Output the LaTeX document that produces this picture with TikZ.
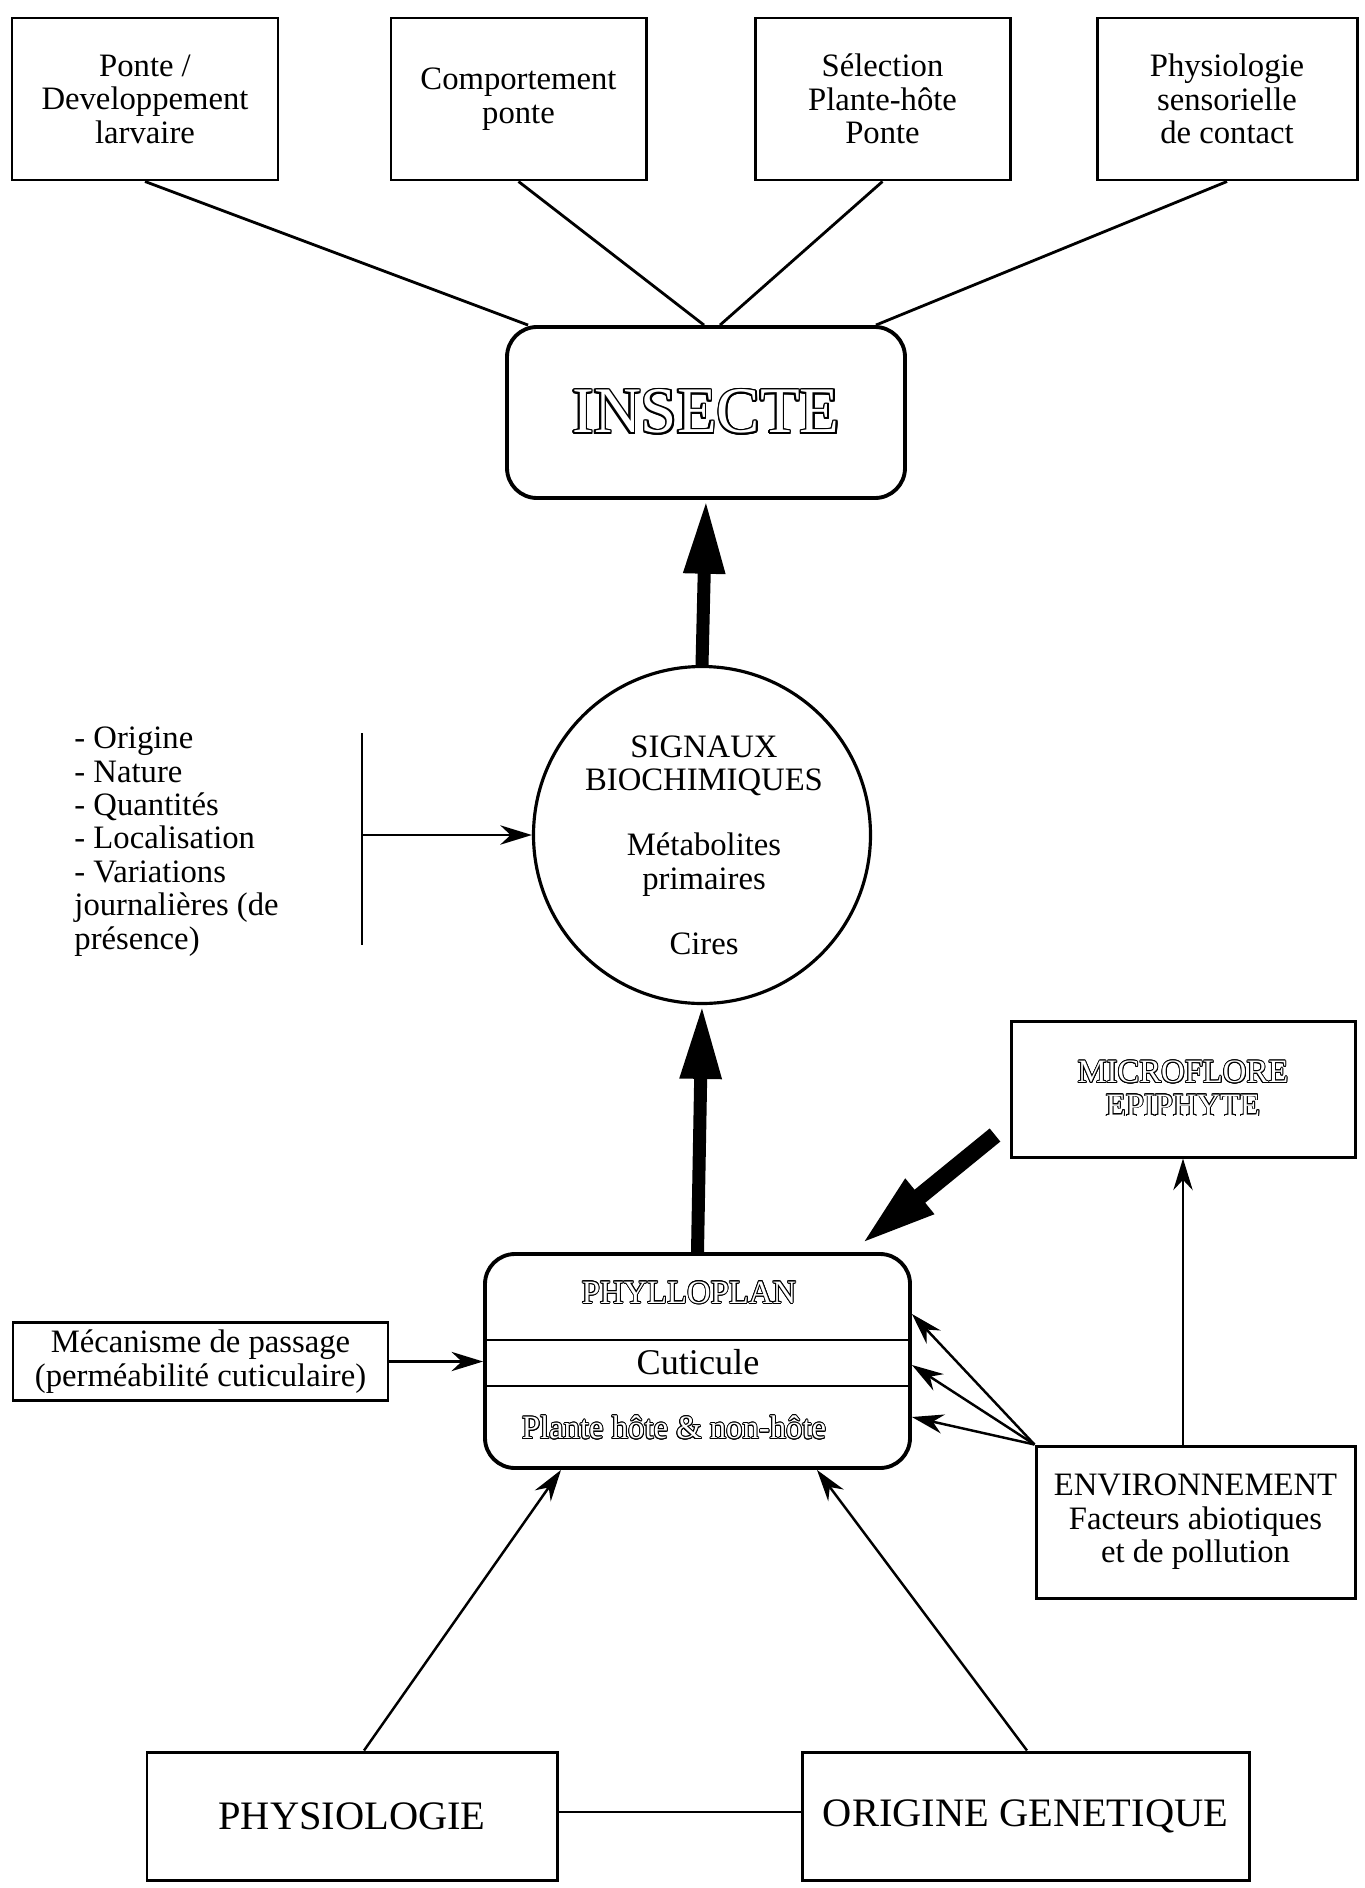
\documentclass[tikz,border=0pt]{standalone}
\usepackage{fontspec}
\setmainfont{Liberation Serif}
\usepackage{contour}
\usetikzlibrary{arrows.meta,calc,positioning,shapes.geometric}
\newcommand{\creux}[2][0.25pt]{{\contourlength{#1}\color{white}\contour{black}{#2}}}
\tikzstyle{boite} = [draw, line width=0.85pt, align=center, inner sep=2pt]
\tikzstyle{arrondi} = [draw, line width=1.1pt, rounded corners=0.3cm, align=center]
\tikzstyle{fleche} = [line width=0.7pt, -{Stealth[length=9pt,width=5.5pt]}]
\tikzstyle{grosse} = [line width=3.7pt, -{Triangle[length=21pt,width=11pt]}]
\tikzstyle{trait} = [line width=0.8pt]

\begin{document}
\begin{tikzpicture}[font=\fontsize{9.3}{9.5}\selectfont]
\useasboundingbox (0,0) rectangle (13.64,-18.88);
% boites du haut
\draw (1.45,-0.99) node (ponte) [boite, minimum width=2.66cm, minimum height=1.62cm] {Ponte /\\Developpement\\larvaire};
\draw (5.185,-0.99) node (compo) [boite, minimum width=2.55cm, minimum height=1.62cm] {Comportement\\ponte};
\draw (8.825,-0.99) node (select) [boite, minimum width=2.55cm, minimum height=1.62cm] {Sélection\\Plante-hôte\\Ponte};
\draw (12.27,-0.99) node (physens) [boite, minimum width=2.60cm, minimum height=1.62cm] {Physiologie\\sensorielle\\de contact};
\draw (7.06,-4.125) node (insecte) [arrondi, minimum width=3.98cm, minimum height=1.71cm] {\fontsize{18.5}{20}\selectfont\creux[0.45pt]{INSECTE}};
\draw[trait] (ponte.south) -- ([xshift=0.23cm]insecte.north west);
\draw[trait] (compo.south) -- ([xshift=-0.02cm]insecte.north);
\draw[trait] (select.south) -- ([xshift=0.14cm]insecte.north);
\draw[trait] (physens.south) -- ([xshift=-0.31cm]insecte.north east);
% signaux
\draw (7.02,-8.35) node (signaux) [circle, draw, line width=0.9pt, minimum size=3.37cm] {};
\node (signauxtxt) [align=center] at (7.04,-8.45) {SIGNAUX\\BIOCHIMIQUES\\[9pt]Métabolites\\primaires\\[9pt]Cires};
\draw[grosse] (signaux.north) -- (insecte.south);
\node (liste) [anchor=west, align=left] at (0.62,-8.415) {- Origine\\- Nature\\- Quantités\\- Localisation\\- Variations\\journalières (de\\présence)};
\coordinate (barreh) at (3.62,-7.33);
\coordinate (barreb) at (3.62,-9.45);
\coordinate (barrem) at (3.62,-8.35);
\draw[trait] (barreh) -- (barreb);
\draw[fleche] (barrem) -- (barrem -| signaux.west);
% phylloplan
\draw (6.975,-13.61) node (phyllo) [arrondi, minimum width=4.25cm, minimum height=2.14cm] {};
\draw[trait] (4.85,-13.40) -- (9.10,-13.40);
\draw[trait] (4.85,-13.86) -- (9.10,-13.86);
\node (phyllotxt) at (6.89,-12.93) {\creux{PHYLLOPLAN}};
\node (cuticule) at (6.98,-13.62) {\fontsize{10.3}{11}\selectfont Cuticule};
\node (plante) at (6.74,-14.28) {\creux{Plante hôte \& non-hôte}};
\draw[grosse] (phyllo.north) -- (signaux.south);
\draw (2.005,-13.615) node (meca) [boite, minimum width=3.75cm, minimum height=0.77cm] {Mécanisme de passage\\(perméabilité cuticulaire)};
\draw[fleche] (meca.east) -- (meca.east -| phyllo.west);
% microflore et environnement
\draw (11.83,-10.89) node (micro) [boite, minimum width=3.44cm, minimum height=1.36cm] {\creux{MICROFLORE}\\\creux{EPIPHYTE}};
\coordinate (queue) at (9.95,-11.35);
\draw[line width=4.8pt, -{Triangle[length=22pt,width=11.5pt]}] (queue) -- ([xshift=-0.52cm,yshift=0.07cm]phyllo.north east);
\draw (11.955,-15.22) node (envir) [boite, minimum width=3.19cm, minimum height=1.52cm] {ENVIRONNEMENT\\Facteurs abiotiques\\et de pollution};
\draw[fleche] (micro.south |- envir.north) -- (micro.south);
\draw[fleche] (envir.north west) -- ([yshift=0.47cm]phyllo.east);
\draw[fleche] (envir.north west) -- ([yshift=-0.04cm]phyllo.east);
\draw[fleche] (envir.north west) -- ([yshift=-0.56cm]phyllo.east);
% boites du bas
\draw (3.52,-18.16) node (physio) [boite, minimum width=4.10cm, minimum height=1.28cm, font=\fontsize{11.5}{13}\selectfont] {PHYSIOLOGIE};
\draw (10.255,-18.16) node (origine) [boite, minimum width=4.47cm, minimum height=1.28cm, font=\fontsize{11.5}{13}\selectfont] {ORIGINE GENETIQUE};
\draw[trait] ([yshift=0.04cm]physio.east) -- ([yshift=0.04cm]origine.west);
\draw[fleche] ([xshift=0.12cm]physio.north) -- ([xshift=-1.365cm]phyllo.south);
\draw[fleche] ([xshift=0.015cm]origine.north) -- ([xshift=1.195cm]phyllo.south);
\end{tikzpicture}
\end{document}
